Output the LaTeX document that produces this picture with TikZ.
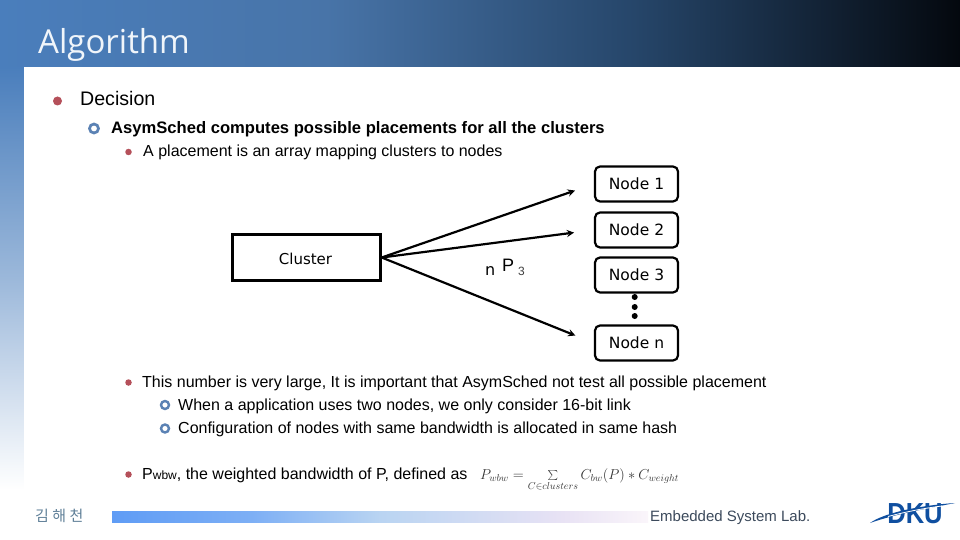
\documentclass[tikz,border=0pt]{standalone}
\usepackage{fontspec}
\setmainfont{Liberation Sans}
\newfontfamily\labelfont{DejaVu Sans}
\newfontfamily\titlefont{Open Sans}
\newfontfamily\krfont{Noto Sans CJK KR}
\definecolor{headblue}{HTML}{4A7EBC}
\definecolor{headmid}{HTML}{4874A8}
\definecolor{headlow}{HTML}{26466A}
\definecolor{headdark}{HTML}{04080E}
\definecolor{bulletred}{HTML}{B5505A}
\definecolor{bulletblue}{HTML}{5B82B4}
\definecolor{logoblue}{HTML}{0F4FA0}
\definecolor{footgrey}{HTML}{3C4A5C}
\definecolor{authorgrey}{HTML}{5F7F98}
\definecolor{barone}{HTML}{5F9CF5}
\definecolor{bartwo}{HTML}{7DAFF5}
\definecolor{barthree}{HTML}{B9D4F2}
\definecolor{barfour}{HTML}{E8E2F4}
\definecolor{barfive}{HTML}{FAF5FA}
\pgfdeclarehorizontalshading{headshade}{100bp}{
	color(0bp)=(headblue);
	color(25bp)=(headblue);
	color(42bp)=(headmid);
	color(58bp)=(headlow);
	color(75bp)=(headdark);
	color(100bp)=(headdark)
}
\pgfdeclarehorizontalshading{barshade}{100bp}{
	color(0bp)=(barone);
	color(25bp)=(barone);
	color(38bp)=(bartwo);
	color(50bp)=(barthree);
	color(67bp)=(barfour);
	color(75bp)=(barfive);
	color(100bp)=(barfive)
}
\tikzset{
	headline/.style={anchor=base west, inner sep=0pt, text=black},
	bodyline/.style={headline, font=\fontsize{16}{18}\selectfont},
	redbullet/.style={circle, fill=bulletred, inner sep=0pt, minimum size=#1},
	bluebullet/.style={circle, draw=bulletblue, fill=white, line width=#1*.3, inner sep=0pt, minimum size=#1},
	nodebox/.style={
		draw,
		rounded corners=5,
		line width=2.2,
		minimum width=83,
		minimum height=35,
		inner sep=0pt,
		font=\labelfont\fontsize{15.5}{18}\selectfont
	},
	clusterbox/.style={
		draw,
		line width=2.4,
		minimum width=148,
		minimum height=46,
		inner sep=0pt
	},
	placement/.style={-stealth, line width=2.2, shorten >=#1},
	vdot/.style={circle, fill=black, inner sep=0pt, minimum size=6}
}
\begin{document}
\begin{tikzpicture}[x=1pt,y=-1pt]
	\useasboundingbox (0,0) rectangle (960,540);
	%%%%%%%% BACKGROUND
	\shade[top color=headblue, bottom color=white, middle color=headblue!55!white] (0,67) rectangle (24,490);
	\fill[white] (24,67) rectangle (960,540);
	\shade[shading=headshade] (0,0) rectangle (960,67);
	\node[anchor=base west, inner sep=0pt, text=white!92!headblue, font=\titlefont\fontsize{33}{36}\selectfont] (title) at (38,54) {Algorithm};
	%%%%%%%% TEXT
	\node[redbullet=9] (b1) at (57.5,101) {};
	\node[headline, font=\fontsize{19.6}{22}\selectfont] (decision) at (80,106) {Decision};
	\node[bluebullet=9] (b2) at (94,128.5) {};
	\node[headline, font=\bfseries\fontsize{16.6}{20}\selectfont] (asym) at (111,133.5) {AsymSched computes possible placements for all the clusters};
	\node[redbullet=6.5] (b3) at (128.5,152) {};
	\node[bodyline] (array) at (143,156.5) {A placement is an array mapping clusters to nodes};
	\node[redbullet=6.5] (b4) at (128.5,382.5) {};
	\node[bodyline] (large) at (142,387.5) {This number is very large, It is important that AsymSched not test all possible placement};
	\node[bluebullet=8] (b5) at (165,405) {};
	\node[bodyline] (when) at (178,410.5) {When a application uses two nodes, we only consider 16-bit link};
	\node[bluebullet=8] (b6) at (165,428.5) {};
	\node[bodyline] (config) at (178,433.5) {Configuration of nodes with same bandwidth is allocated in same hash};
	\node[redbullet=6.5] (b7) at (128.5,474.5) {};
	\node[bodyline] (pwbw) at (142,479.5) {P{\fontsize{12}{14}\selectfont wbw}, the weighted bandwidth of P, defined as};
	\node[anchor=base west, inner sep=0pt, text=black!80, font=\fontsize{14.4}{16}\selectfont] (formula) at (480,479.5) {$P_{wbw}=\sum\limits_{C\in clusters} C_{bw}(P)*C_{weight}$};
	%%%%%%%% DIAGRAM
	\node[clusterbox] (cluster) at (306.5,257.5) {};
	\node[anchor=base, inner sep=0pt, font=\labelfont\fontsize{15}{18}\selectfont] (clusterlabel) at (305.5,264) {Cluster};
	\node[nodebox] (node1) at (636.5,184) {Node 1};
	\node[nodebox] (node2) at (636.5,230) {Node 2};
	\node[nodebox] (node3) at (636.5,275) {Node 3};
	\node[nodebox] (noden) at (636.5,343) {Node n};
	\foreach \y/\name in {297/d1,307/d2,316/d3} {
		\node[vdot] (\name) at (634.7,\y) {};
	}
	\draw[placement=20] (cluster.east) -- (node1.west);
	\draw[placement=20] (cluster.east) -- (node2.west);
	\draw[placement=20] (cluster.east) -- (noden.west);
	\node[anchor=base west, inner sep=0pt, font=\labelfont\fontsize{16}{20}\selectfont] (nn) at (485,275) {n};
	\node[anchor=base west, inner sep=0pt, font=\fontsize{18}{20}\selectfont] (pp) at (502,271) {P};
	\node[anchor=base west, inner sep=0pt, text=black!75, font=\fontsize{12}{14}\selectfont] (three) at (518,275) {3};
	%%%%%%%% FOOTER
	\node[anchor=base west, inner sep=0pt, text=authorgrey, font=\krfont\fontsize{15}{16}\selectfont] (author) at (35,521) {김 해 천};
	\shade[shading=barshade] (112,511) rectangle (648,522);
	\node[anchor=base west, inner sep=0pt, text=footgrey, font=\fontsize{15}{18}\selectfont] (lab) at (650,521.5) {Embedded System Lab.};
	\fill[logoblue] (870,523) .. controls (885,512) and (925,505) .. (955,503) .. controls (930,508) and (895,514) .. (870,523) -- cycle;
	\node[inner sep=0pt, text=logoblue, font=\bfseries\fontsize{29}{29}\selectfont, xscale=.88] (dku) at (915,513.5) {DKU};
	\draw[white, line width=.8] (888,516.5) .. controls (905,512) and (925,508) .. (942,506);
\end{tikzpicture}
\end{document}
